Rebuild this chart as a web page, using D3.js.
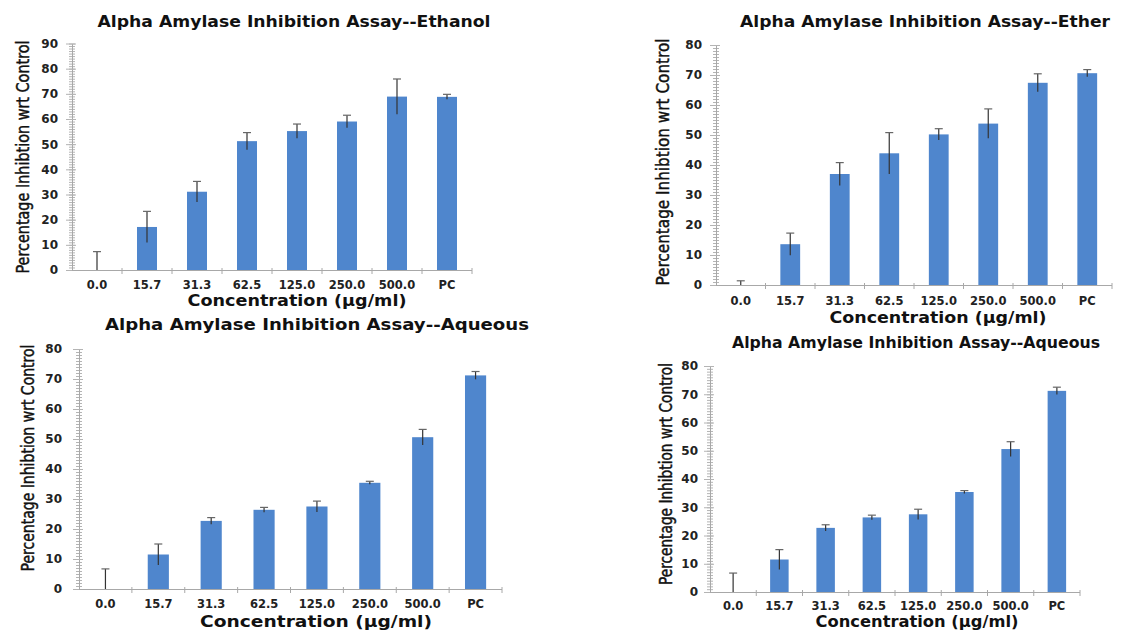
<!DOCTYPE html>
<html>
<head>
<meta charset="utf-8">
<script src="https://cdn.jsdelivr.net/npm/d3@7"></script>
<style>
  body { margin:0; background:#fff; }
  svg { display:block; }
  .title { font-family:"DejaVu Sans", Verdana, sans-serif; font-weight:bold; fill:#111; }
  .xtitle { font-family:"DejaVu Sans", Verdana, sans-serif; font-weight:bold; fill:#111; }
  .ytitle { font-family:"Liberation Sans Narrow","DejaVu Sans Condensed","Roboto",sans-serif; fill:#111; stroke:#111; stroke-width:0.45px; }
  .tick text { font-family:"DejaVu Sans", Verdana, sans-serif; font-weight:bold; fill:#222; }
  .domain { stroke:#a8a8a8; }
  .tick line { stroke:#b4b4b4; }
</style>
</head>
<body>
<svg id="chart" width="1148" height="630"></svg>
<script>
// values
var categories = ["0.0", "15.7", "31.3", "62.5", "125.0", "250.0", "500.0", "PC"];

var ethanolMean = [0, 17.1, 31.1, 51.2, 55.2, 59.0, 68.9, 68.8];
var ethanolErr  = [7.3, 6.2, 4.1, 3.4, 2.8, 2.5, 7.0, 1.0];

var etherMean = [0, 13.6, 37.0, 43.9, 50.2, 53.8, 67.4, 70.6];
var etherErr  = [1.4, 3.7, 3.8, 6.9, 1.9, 4.9, 3.0, 1.2];

var aqueousMean = [0, 11.5, 22.7, 26.4, 27.5, 35.4, 50.6, 71.2];
var aqueousErr  = [6.7, 3.5, 1.1, 0.8, 1.8, 0.5, 2.6, 1.3];

var yMaxList = [90, 80, 80, 80];
var titles = [
    "Alpha Amylase Inhibition Assay--Ethanol",
    "Alpha Amylase Inhibition Assay--Ether",
    "Alpha Amylase Inhibition Assay--Aqueous",
    "Alpha Amylase Inhibition Assay--Aqueous"
];

var panels = [
    {mean: ethanolMean, err: ethanolErr, x0: 72,  x1: 472,  y0: 270, y1: 43.5,
     titleX: 294, titleY: 27, titleW: 393, labY: 290, xtX: 297, xtY: 306, xtW: 219,
     ytX: 22, ytY: 157, ytW: 233, ylabR: 58},
    {mean: etherMean, err: etherErr, x0: 716, x1: 1112, y0: 285, y1: 45,
     titleX: 925, titleY: 27, titleW: 370, labY: 306, xtX: 938, xtY: 323, xtW: 217,
     ytX: 662, ytY: 162, ytW: 247, ylabR: 702},
    {mean: aqueousMean, err: aqueousErr, x0: 79, x1: 502, y0: 589, y1: 349,
     titleX: 317, titleY: 330, titleW: 424, labY: 609, xtX: 316, xtY: 627, xtW: 232,
     ytX: 27, ytY: 458, ytW: 227, ylabR: 62},
    {mean: aqueousMean, err: aqueousErr, x0: 710, x1: 1080, y0: 592, y1: 366,
     titleX: 916, titleY: 348, titleW: 368, labY: 611, xtX: 917, xtY: 627, xtW: 203,
     ytX: 665, ytY: 474, ytW: 222, ylabR: 698}
];

var svg = d3.select("#chart");

panels.forEach(function(p, k) {
    var g = svg.append("g");
    var yMax = yMaxList[k];

    var x = d3.scaleBand()
        .domain(categories)
        .range([p.x0, p.x1])
        .paddingInner(0.6)
        .paddingOuter(0.3);

    var y = d3.scaleLinear()
        .domain([0, yMax])
        .range([p.y0, p.y1]);

    var step = x.step();

    // minor y ticks every unit
    g.append("g")
        .attr("transform", "translate(" + p.x0 + ",0)")
        .call(d3.axisLeft(y).tickValues(d3.range(0, yMax + 1, 1)).tickSize(3).tickFormat(""))
        .call(function(a) {
            a.select(".domain").remove();
            a.selectAll(".tick line").attr("x2", -3).attr("x1", 3).attr("stroke", "#c8c8c8");
        });

    // major y ticks
    g.append("g")
        .attr("transform", "translate(" + p.x0 + ",0)")
        .call(d3.axisLeft(y).tickValues(d3.range(0, yMax + 1, 10)).tickSize(6).tickSizeOuter(0).tickPadding(p.x0 - p.ylabR - 6 > 0 ? p.x0 - p.ylabR - 6 : 3))
        .call(function(a) {
            a.selectAll(".tick line").attr("x1", 4);
            a.selectAll(".tick text").style("font-size", "12px");
        });

    // bars
    g.selectAll("rect.bar")
        .data(categories)
        .enter().append("rect")
        .attr("class", "bar")
        .attr("x", function(d) { return x(d); })
        .attr("width", x.bandwidth())
        .attr("y", function(d, i) { return y(p.mean[i]); })
        .attr("height", function(d, i) { return y(0) - y(p.mean[i]); })
        .attr("fill", "#4f86cd");

    // x axis line, labels and boundary ticks
    g.append("g")
        .attr("transform", "translate(0," + p.y0 + ")")
        .call(d3.axisBottom(x).tickSize(0).tickPadding(p.labY - p.y0 - 9))
        .call(function(a) {
            a.select(".domain").attr("d", "M" + p.x0 + ",0.5H" + p.x1);
            a.selectAll(".tick text").style("font-size", "11.5px");
        });

    g.selectAll("line.sep")
        .data(d3.range(1, categories.length + 1))
        .enter().append("line")
        .attr("class", "sep")
        .attr("x1", function(i) { return p.x0 + i * step; })
        .attr("x2", function(i) { return p.x0 + i * step; })
        .attr("y1", p.y0 - 2)
        .attr("y2", p.y0 + 4)
        .attr("stroke", "#a8a8a8");

    // error bars
    var eb = g.selectAll("g.err")
        .data(categories)
        .enter().append("g")
        .attr("class", "err");

    eb.append("line")
        .attr("x1", function(d) { return x(d) + x.bandwidth() / 2; })
        .attr("x2", function(d) { return x(d) + x.bandwidth() / 2; })
        .attr("y1", function(d, i) { return y(Math.max(0, p.mean[i] - p.err[i])); })
        .attr("y2", function(d, i) { return y(p.mean[i] + p.err[i]); })
        .attr("stroke", "#333")
        .attr("stroke-width", 1.2);

    eb.append("line")
        .attr("x1", function(d) { return x(d) + x.bandwidth() / 2 - 4; })
        .attr("x2", function(d) { return x(d) + x.bandwidth() / 2 + 4; })
        .attr("y1", function(d, i) { return y(p.mean[i] + p.err[i]); })
        .attr("y2", function(d, i) { return y(p.mean[i] + p.err[i]); })
        .attr("stroke", "#666")
        .attr("stroke-width", 1.2);

    // titles
    g.append("text")
        .attr("class", "title")
        .attr("x", p.titleX)
        .attr("y", p.titleY)
        .attr("text-anchor", "middle")
        .attr("textLength", p.titleW)
        .attr("lengthAdjust", "spacingAndGlyphs")
        .style("font-size", "15px")
        .text(titles[k]);

    g.append("text")
        .attr("class", "xtitle")
        .attr("x", p.xtX)
        .attr("y", p.xtY)
        .attr("text-anchor", "middle")
        .attr("textLength", p.xtW)
        .attr("lengthAdjust", "spacingAndGlyphs")
        .style("font-size", "16px")
        .text("Concentration (μg/ml)");

    g.append("text")
        .attr("class", "ytitle")
        .attr("transform", "translate(" + (p.ytX + 7) + "," + p.ytY + ") rotate(-90)")
        .attr("text-anchor", "middle")
        .attr("textLength", p.ytW)
        .attr("lengthAdjust", "spacingAndGlyphs")
        .style("font-size", "18.5px")
        .text("Percentage Inhibtion wrt Control");
});
</script>
</body>
</html>
